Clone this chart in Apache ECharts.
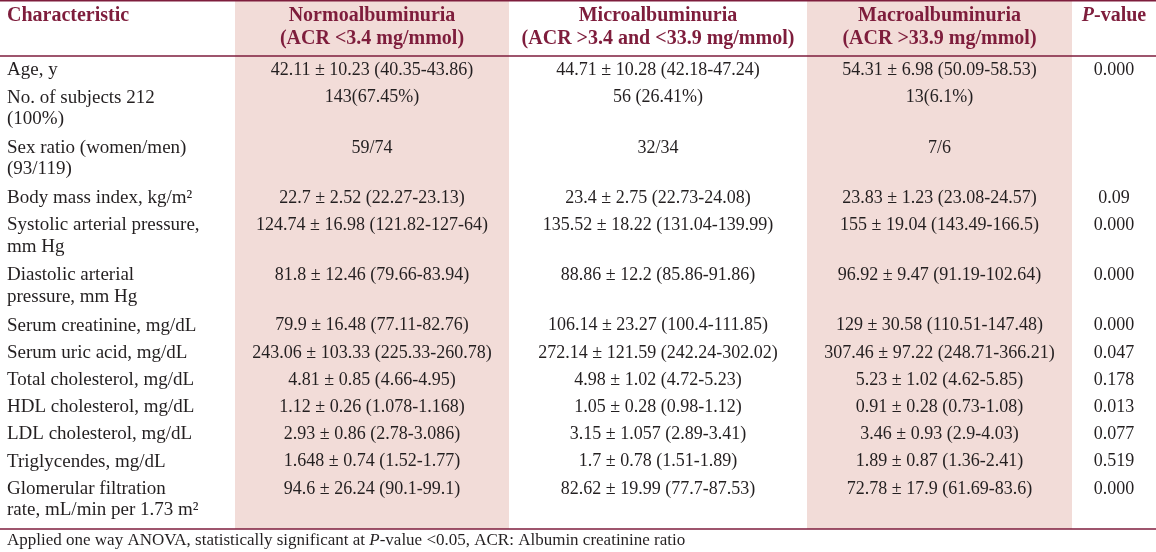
<!DOCTYPE html>
<html>
<head>
<meta charset="utf-8">
<script src="https://cdn.jsdelivr.net/npm/echarts@6/dist/echarts.min.js"></script>
<style>
html,body{margin:0;padding:0;background:#fff;}
#chart{width:1156px;height:552px;}
</style>
</head>
<body>
<div id="chart"></div>
<script>
// ---------------- DATA ----------------
const columnHeaders = [
  'Characteristic',
  'Normoalbuminuria\n(ACR <3.4 mg/mmol)',
  'Microalbuminuria\n(ACR >3.4 and <33.9 mg/mmol)',
  'Macroalbuminuria\n(ACR >33.9 mg/mmol)',
  'P-value'
];
const characteristics = [
  'Age, y',
  'No. of subjects 212\n(100%)',
  'Sex ratio (women/men)\n(93/119)',
  'Body mass index, kg/m\u00b2',
  'Systolic arterial pressure,\nmm Hg',
  'Diastolic arterial\npressure, mm Hg',
  'Serum creatinine, mg/dL',
  'Serum uric acid, mg/dL',
  'Total cholesterol, mg/dL',
  'HDL cholesterol, mg/dL',
  'LDL cholesterol, mg/dL',
  'Triglycendes, mg/dL',
  'Glomerular filtration\nrate, mL/min per 1.73 m\u00b2'
];
const normoalbuminuria = [
  '42.11 \u00b1 10.23 (40.35-43.86)',
  '143(67.45%)',
  '59/74',
  '22.7 \u00b1 2.52 (22.27-23.13)',
  '124.74 \u00b1 16.98 (121.82-127-64)',
  '81.8 \u00b1 12.46 (79.66-83.94)',
  '79.9 \u00b1 16.48 (77.11-82.76)',
  '243.06 \u00b1 103.33 (225.33-260.78)',
  '4.81 \u00b1 0.85 (4.66-4.95)',
  '1.12 \u00b1 0.26 (1.078-1.168)',
  '2.93 \u00b1 0.86 (2.78-3.086)',
  '1.648 \u00b1 0.74 (1.52-1.77)',
  '94.6 \u00b1 26.24 (90.1-99.1)'
];
const microalbuminuria = [
  '44.71 \u00b1 10.28 (42.18-47.24)',
  '56 (26.41%)',
  '32/34',
  '23.4 \u00b1 2.75 (22.73-24.08)',
  '135.52 \u00b1 18.22 (131.04-139.99)',
  '88.86 \u00b1 12.2 (85.86-91.86)',
  '106.14 \u00b1 23.27 (100.4-111.85)',
  '272.14 \u00b1 121.59 (242.24-302.02)',
  '4.98 \u00b1 1.02 (4.72-5.23)',
  '1.05 \u00b1 0.28 (0.98-1.12)',
  '3.15 \u00b1 1.057 (2.89-3.41)',
  '1.7 \u00b1 0.78 (1.51-1.89)',
  '82.62 \u00b1 19.99 (77.7-87.53)'
];
const macroalbuminuria = [
  '54.31 \u00b1 6.98 (50.09-58.53)',
  '13(6.1%)',
  '7/6',
  '23.83 \u00b1 1.23 (23.08-24.57)',
  '155 \u00b1 19.04 (143.49-166.5)',
  '96.92 \u00b1 9.47 (91.19-102.64)',
  '129 \u00b1 30.58 (110.51-147.48)',
  '307.46 \u00b1 97.22 (248.71-366.21)',
  '5.23 \u00b1 1.02 (4.62-5.85)',
  '0.91 \u00b1 0.28 (0.73-1.08)',
  '3.46 \u00b1 0.93 (2.9-4.03)',
  '1.89 \u00b1 0.87 (1.36-2.41)',
  '72.78 \u00b1 17.9 (61.69-83.6)'
];
const pValues = [
  '0.000', '', '', '0.09', '0.000', '0.000', '0.000',
  '0.047', '0.178', '0.013', '0.077', '0.519', '0.000'
];
const footnote = 'Applied one way ANOVA, statistically significant at P-value <0.05, ACR: Albumin creatinine ratio';

// ---------------- LAYOUT (table units) ----------------
const TABLE_W = 1156, TABLE_H = 552;
const COL_EDGES = [0, 235, 509, 807, 1072, 1156];
const SHADED_COLS = [1, 3];
const HEADER_BOTTOM = 56, TABLE_BOTTOM = 529;
const ROW_H1 = 27.2, ROW_EXTRA_LINE = 23, FIRST_LINE_OFFSET = 14.5;
const BODY_LH = 21.5, HEAD_LH = 23;
const FONT = "'Liberation Serif', 'DejaVu Serif', serif";
const INK = '#231f20', MAROON = '#7e1d3c', PINK = '#f2dcd8';
const SIZE_HEAD = 20, SIZE_LABEL = 19, SIZE_VALUE = 18, SIZE_NOTE = 17;

const columns = [characteristics, normoalbuminuria, microalbuminuria, macroalbuminuria, pValues];

// row top positions from line counts
const rowTops = [];
(function () {
  let y = HEADER_BOTTOM;
  characteristics.forEach(function (c) {
    rowTops.push(y);
    const lines = c.split('\n').length;
    y += ROW_H1 + ROW_EXTRA_LINE * (lines - 1);
  });
})();

function richP(s) { return s.replace(/P-value/g, '{i|P}-value'); }

// cells: [colIndex, rowIndex] ; rowIndex -1 = header
const cellData = [];
for (let c = 0; c < columns.length; c++) {
  cellData.push([c, -1]);
  for (let r = 0; r < characteristics.length; r++) {
    if (columns[c][r]) cellData.push([c, r]);
  }
}

const chart = echarts.init(document.getElementById('chart'), null, { renderer: 'canvas' });

chart.setOption({
  animation: false,
  backgroundColor: '#ffffff',
  grid: { left: 0, right: 0, top: 0, bottom: 0, containLabel: false },
  xAxis: { type: 'value', min: 0, max: TABLE_W, show: false },
  yAxis: { type: 'value', min: 0, max: TABLE_H, inverse: true, show: false },
  title: {
    text: richP(footnote),
    left: 7, top: 532,
    padding: 0,
    textStyle: {
      fontFamily: FONT, fontSize: SIZE_NOTE, fontWeight: 'normal', color: INK,
      rich: { i: { fontFamily: FONT, fontSize: SIZE_NOTE, fontStyle: 'italic', color: INK } }
    }
  },
  series: [
    {
      type: 'custom', silent: true, z: 1,
      data: SHADED_COLS.map(function (c) { return [COL_EDGES[c], COL_EDGES[c + 1]]; }),
      renderItem: function (params, api) {
        const p0 = api.coord([api.value(0), 0]);
        const p1 = api.coord([api.value(1), TABLE_BOTTOM]);
        return { type: 'rect', shape: { x: p0[0], y: p0[1], width: p1[0] - p0[0], height: p1[1] - p0[1] }, style: { fill: PINK } };
      }
    },
    {
      type: 'custom', silent: true, z: 2,
      data: [[0.75, 1.5], [HEADER_BOTTOM, 1.3], [TABLE_BOTTOM, 1.3]],
      renderItem: function (params, api) {
        const a = api.coord([0, api.value(0)]);
        const b = api.coord([TABLE_W, api.value(0)]);
        return { type: 'line', shape: { x1: a[0], y1: a[1], x2: b[0], y2: b[1] }, style: { stroke: MAROON, lineWidth: api.value(1) } };
      }
    },
    {
      type: 'custom', silent: true, z: 3,
      data: cellData,
      renderItem: function (params, api) {
        const c = api.value(0), r = api.value(1);
        const isHead = r < 0;
        const text = isHead ? columnHeaders[c] : columns[c][r];
        const xVal = c === 0 ? COL_EDGES[0] + 7 : (COL_EDGES[c] + COL_EDGES[c + 1]) / 2;
        const lh = isHead ? HEAD_LH : BODY_LH;
        const size = isHead ? SIZE_HEAD : (c === 0 ? SIZE_LABEL : SIZE_VALUE);
        const firstCenter = isHead ? 16 : rowTops[r] + FIRST_LINE_OFFSET;
        const pt = api.coord([xVal, firstCenter - lh / 2]);
        const color = isHead ? MAROON : INK;
        const weight = isHead ? 'bold' : 'normal';
        return {
          type: 'text',
          x: pt[0], y: pt[1],
          style: {
            text: richP(text),
            fontFamily: FONT, fontSize: size, fontWeight: weight, fill: color,
            align: c === 0 ? 'left' : 'center', verticalAlign: 'top', lineHeight: lh,
            rich: {
              i: { fontFamily: FONT, fontSize: size, fontWeight: weight, fontStyle: 'italic', fill: color, lineHeight: lh }
            }
          }
        };
      }
    }
  ]
});
</script>
</body>
</html>
